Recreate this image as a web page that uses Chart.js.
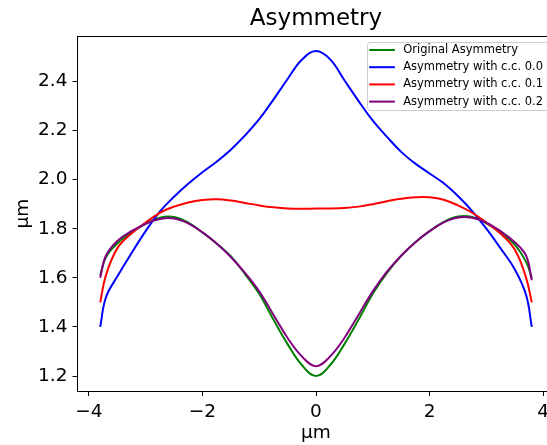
<!DOCTYPE html>
<html>
<head>
<meta charset="utf-8">
<title>Asymmetry</title>
<script src="https://cdn.jsdelivr.net/npm/chart.js@4.4.0/dist/chart.umd.min.js"></script>
<style>
  html, body { margin: 0; padding: 0; background: #fff; overflow: hidden; }
  #wrap { width: 547px; height: 445px; overflow: hidden; }
  #asymChart { display: block; }
</style>
</head>
<body>
<div id="wrap"><canvas id="asymChart" width="560" height="445"></canvas></div>
<script>
// positions along the profile (µm)
const positions = [-3.8, -3.7, -3.5, -3.25, -3.0, -2.75, -2.5, -2.25, -2.0, -1.75, -1.5, -1.25, -1.0, -0.75, -0.5, -0.25,
  0, 0.25, 0.5, 0.75, 1.0, 1.25, 1.5, 1.75, 2.0, 2.25, 2.5, 2.75, 3.0, 3.25, 3.5, 3.7, 3.8];

const originalAsym = [1.61, 1.684, 1.74, 1.785, 1.82, 1.845, 1.848, 1.825, 1.785, 1.74, 1.688, 1.615, 1.535, 1.43, 1.33, 1.245,
  1.20, 1.245, 1.33, 1.43, 1.535, 1.62, 1.69, 1.745, 1.79, 1.828, 1.85, 1.848, 1.822, 1.785, 1.735, 1.665, 1.60];
const asymCC00 = [1.40, 1.52, 1.605, 1.70, 1.79, 1.87, 1.93, 1.983, 2.03, 2.073, 2.122, 2.18, 2.246, 2.326, 2.41, 2.488,
  2.524, 2.49, 2.405, 2.32, 2.24, 2.174, 2.113, 2.065, 2.025, 1.985, 1.933, 1.872, 1.80, 1.72, 1.635, 1.53, 1.40];
const asymCC01 = [1.50, 1.61, 1.72, 1.78, 1.825, 1.865, 1.89, 1.907, 1.917, 1.92, 1.915, 1.905, 1.895, 1.887, 1.882, 1.881,
  1.882, 1.882, 1.884, 1.89, 1.90, 1.912, 1.922, 1.928, 1.928, 1.918, 1.895, 1.865, 1.825, 1.78, 1.715, 1.60, 1.50];
const asymCC02 = [1.60, 1.69, 1.75, 1.79, 1.82, 1.84, 1.842, 1.822, 1.785, 1.74, 1.685, 1.62, 1.545, 1.45, 1.355, 1.28,
  1.24, 1.28, 1.355, 1.45, 1.545, 1.625, 1.69, 1.745, 1.79, 1.826, 1.846, 1.845, 1.825, 1.79, 1.745, 1.69, 1.59];

const xTicks = [-4, -2, 0, 2, 4];
const yTicks = [1.2, 1.4, 1.6, 1.8, 2.0, 2.2, 2.4];

const FONT = "'DejaVu Sans', 'Liberation Sans', sans-serif";

function toPoints(values) {
  return positions.map((x, i) => ({ x: x, y: values[i] }));
}

function lineSet(label, values, color, order) {
  return {
    label: label,
    data: toPoints(values),
    borderColor: color,
    backgroundColor: color,
    borderWidth: 2,
    pointRadius: 0,
    tension: 0.4,
    fill: false,
    order: order,
  };
}

// axes frame (top and right spines)
const frame = {
  id: "frame",
  afterDatasetsDraw(chart) {
    const { ctx, chartArea: a } = chart;
    ctx.save();
    ctx.strokeStyle = "#000";
    ctx.lineWidth = 1;
    ctx.strokeRect(Math.round(a.left) - 0.5, Math.round(a.top) + 0.5, Math.round(a.right - a.left), Math.round(a.bottom - a.top));
    ctx.restore();
  },
};

// legend in the upper right corner of the axes
const legendBox = {
  id: "legendBox",
  afterDraw(chart) {
    const { ctx, chartArea: a } = chart;
    const sets = chart.data.datasets;
    ctx.save();
    ctx.font = "11.5px " + FONT;
    let maxW = 0;
    for (const ds of sets) maxW = Math.max(maxW, ctx.measureText(ds.label).width);
    const w = 36.6 + maxW + 5.5;
    const h = 68;
    const x = a.right - 6 - w;
    const y = a.top + 6;
    ctx.beginPath();
    ctx.roundRect(Math.round(x) + 0.5, Math.round(y) + 0.5, w, h, 3);
    ctx.fillStyle = "rgba(255,255,255,0.8)";
    ctx.fill();
    ctx.strokeStyle = "#cccccc";
    ctx.lineWidth = 1;
    ctx.stroke();
    sets.forEach((ds, i) => {
      const rowY = y + 8 + i * 17.2;
      ctx.strokeStyle = ds.borderColor;
      ctx.lineWidth = 2;
      ctx.beginPath();
      ctx.moveTo(x + 2.6, rowY);
      ctx.lineTo(x + 28.3, rowY);
      ctx.stroke();
      ctx.fillStyle = "#000";
      ctx.textBaseline = "middle";
      ctx.textAlign = "left";
      ctx.fillText(ds.label, x + 36.6, rowY);
    });
    ctx.restore();
  },
};

document.addEventListener("DOMContentLoaded", () => {
  const ctx = document.getElementById("asymChart").getContext("2d");

  new Chart(ctx, {
    type: "line",
    data: {
      datasets: [
        lineSet("Original Asymmetry", originalAsym, "#008000", 4),
        lineSet("Asymmetry with c.c. 0.0", asymCC00, "#0000ff", 3),
        lineSet("Asymmetry with c.c. 0.1", asymCC01, "#ff0000", 2),
        lineSet("Asymmetry with c.c. 0.2", asymCC02, "#800080", 1),
      ],
    },
    options: {
      responsive: false,
      animation: false,
      devicePixelRatio: 1,
      layout: { padding: { left: 0, right: 5.5, top: 0, bottom: 0 } },
      plugins: {
        legend: { display: false },
        tooltip: { enabled: false },
        title: {
          display: true,
          text: "Asymmetry",
          color: "#000",
          fullSize: false,
          font: { family: FONT, size: 23, weight: "normal" },
          padding: { top: 5, bottom: 3.4 },
        },
      },
      scales: {
        x: {
          type: "linear",
          position: "bottom",
          min: -4.2,
          max: 4.2,
          afterBuildTicks: (s) => { s.ticks = xTicks.map((v) => ({ value: v })); },
          afterFit: (s) => { s.height = 54; },
          grid: { drawOnChartArea: false, drawTicks: true, tickLength: 5, color: "#000", lineWidth: 1 },
          border: { display: true, color: "#000", width: 1 },
          ticks: {
            color: "#000",
            padding: 5,
            maxRotation: 0,
            autoSkip: false,
            font: { family: FONT, size: 18.5 },
            callback: (v) => (v < 0 ? "\u2212" + Math.abs(v) : String(v)),
          },
          title: {
            display: true,
            text: "µm",
            color: "#000",
            font: { family: FONT, size: 18.5 },
            padding: { top: 0, bottom: 0.3 },
          },
        },
        y: {
          type: "linear",
          position: "left",
          min: 1.139,
          max: 2.585,
          afterBuildTicks: (s) => { s.ticks = yTicks.map((v) => ({ value: v })); },
          afterFit: (s) => { s.width = 77.5; },
          grid: { drawOnChartArea: false, drawTicks: true, tickLength: 5, color: "#000", lineWidth: 1 },
          border: { display: true, color: "#000", width: 1 },
          ticks: {
            color: "#000",
            padding: 5,
            autoSkip: false,
            font: { family: FONT, size: 18.5 },
            callback: (v) => v.toFixed(1),
          },
          title: {
            display: true,
            text: "µm",
            color: "#000",
            font: { family: FONT, size: 18.5 },
            padding: { top: 12.5, bottom: 0 },
          },
        },
      },
    },
    plugins: [frame, legendBox],
  });
});
</script>
</body>
</html>
